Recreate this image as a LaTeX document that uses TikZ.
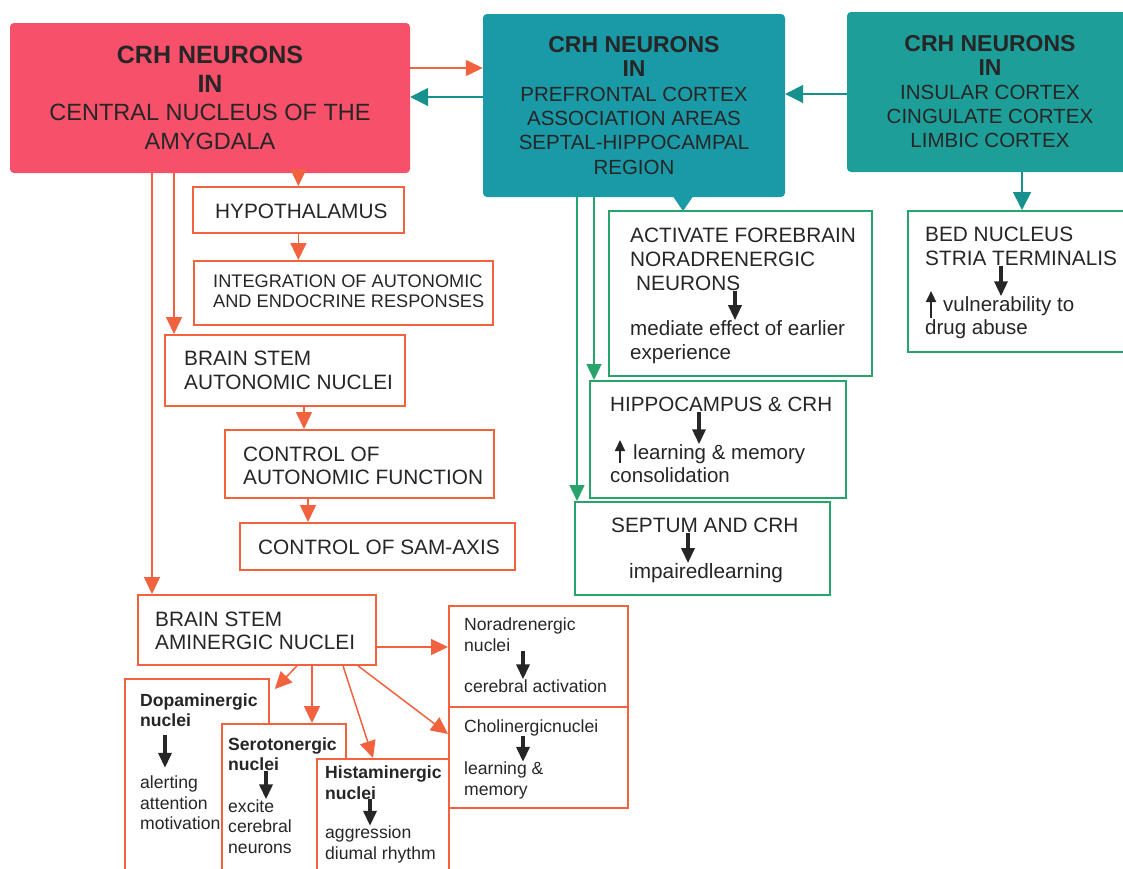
\documentclass[tikz,border=0pt]{standalone}
\usepackage{fontspec}
\setmainfont{Liberation Sans}
\usetikzlibrary{arrows.meta, positioning}
\definecolor{CRH_Rose}{HTML}{F6506A}
\definecolor{CRH_Teal}{HTML}{1A99A7}
\definecolor{CRH_Sea}{HTML}{1D9E99}
\definecolor{CRH_Arrow}{HTML}{16918E}
\definecolor{CRH_Coral}{HTML}{F2623F}
\definecolor{CRH_Green}{HTML}{27A36C}
\definecolor{CRH_Ink}{HTML}{262626}

\tikzset{
  head/.style={rounded corners=4pt, inner sep=0pt, align=center, text=CRH_Ink},
  rbox/.style={draw=CRH_Coral, line width=1.8pt, anchor=north west, inner sep=0pt},
  gbox/.style={draw=CRH_Green, line width=1.8pt, anchor=north west, inner sep=0pt},
  lbl/.style={anchor=west, inner sep=0pt, align=left, text=CRH_Ink, font=\fontsize{20.8}{23.5}\selectfont},
  note/.style={lbl, font=\fontsize{17.6}{20.5}\selectfont},
  rarr/.style={draw=CRH_Coral, line width=1.5pt, -{Triangle[length=17pt, width=16pt]}},
  garr/.style={draw=CRH_Green, line width=1.5pt, -{Triangle[length=16pt, width=15pt]}},
  tarr/.style={draw=CRH_Arrow, line width=1.8pt, -{Triangle[length=18pt, width=18pt]}},
  darr/.style={draw=CRH_Ink, line width=3.4pt, -{Triangle[length=15pt, width=13pt]}},
  uarr/.style={draw=CRH_Ink, line width=2.2pt, -{Triangle[length=11pt, width=10pt]}},
}
\newcommand{\hd}[1]{{\fontsize{23}{26}\selectfont\bfseries #1}}

\begin{document}
\begin{tikzpicture}[x=1pt, y=-1pt]
    \clip (0,0) rectangle (1123,868);
    % CRH neuron groups
    \node[head, fill=CRH_Rose, minimum width=400pt, minimum height=150pt,
          font=\fontsize{23.5}{28.5}\selectfont] (cea) at (210,98)
          {{\fontsize{25}{28}\selectfont\bfseries CRH NEURONS}\\{\fontsize{25}{28}\selectfont\bfseries IN}\\CENTRAL NUCLEUS OF THE\\AMYGDALA};
    \node[head, fill=CRH_Teal, minimum width=302pt, minimum height=183pt,
          font=\fontsize{20.5}{24.3}\selectfont] (pfc) at (634,105.5)
          {\hd{CRH NEURONS}\\\hd{IN}\\PREFRONTAL CORTEX\\ASSOCIATION AREAS\\SEPTAL-HIPPOCAMPAL\\REGION};
    \fill[CRH_Teal] (672,195) -- (683,211) -- (694,195) -- cycle;
    \node[head, fill=CRH_Sea, minimum width=286pt, minimum height=160pt,
          font=\fontsize{20.5}{24}\selectfont] (ins) at (990,92)
          {\hd{CRH NEURONS}\\\hd{IN}\\INSULAR CORTEX\\CINGULATE CORTEX\\LIMBIC CORTEX};

    % Amygdala outputs
    \node[rbox, minimum width=211pt, minimum height=46pt] (hypo) at (192,186) {};
    \node[lbl] (hypo-t) at (215,211) {HYPOTHALAMUS};
    \node[rbox, minimum width=299pt, minimum height=64pt] (integ) at (193,260) {};
    \node[lbl, font=\fontsize{18.2}{20}\selectfont] (integ-t) at (213,291) {INTEGRATION OF AUTONOMIC\\AND ENDOCRINE RESPONSES};
    \node[rbox, minimum width=240pt, minimum height=71pt] (autnuc) at (164,334) {};
    \node[lbl] (autnuc-t) at (184,370.5) {BRAIN STEM\\AUTONOMIC NUCLEI};
    \node[rbox, minimum width=269pt, minimum height=68pt] (ctrlaut) at (224,429) {};
    \node[lbl] (ctrlaut-t) at (243,466) {CONTROL OF\\AUTONOMIC FUNCTION};
    \node[rbox, minimum width=275pt, minimum height=47pt] (sam) at (239,522) {};
    \node[lbl] (sam-t) at (258,547) {CONTROL OF SAM-AXIS};

    % Aminergic nuclei
    \node[rbox, minimum width=238pt, minimum height=70pt] (amin) at (137,594) {};
    \node[lbl] (amin-t) at (155,631) {BRAIN STEM\\AMINERGIC NUCLEI};
    \node[rbox, fill=white, minimum width=144pt, minimum height=210pt] (dopa) at (124,678) {};
    \node[note] (dopa-t) at (140,710) {\textbf{Dopaminergic}\\\textbf{nuclei}};
    \node[note] (dopa-b) at (140,803) {alerting\\attention\\motivation};
    \node[rbox, fill=white, minimum width=124pt, minimum height=170pt] (sero) at (221,723) {};
    \node[note] (sero-t) at (228,754) {\textbf{Serotonergic}\\\textbf{nuclei}};
    \node[note] (sero-b) at (228,826.5) {excite\\cerebral\\neurons};
    \node[rbox, fill=white, minimum width=132pt, minimum height=130pt] (hist) at (316,758) {};
    \node[note] (hist-t) at (325,782.5) {\textbf{Histaminergic}\\\textbf{nuclei}};
    \node[note] (hist-b) at (325,844.5) {aggression\\diumal rhythm};
    \node[rbox, minimum width=179pt, minimum height=101pt] (nora) at (448,605) {};
    \node[note] (nora-t) at (464,634.5) {Noradrenergic\\nuclei};
    \node[note] (nora-b) at (464,686) {cerebral activation};
    \node[rbox, minimum width=179pt, minimum height=101pt] (chol) at (448,706) {};
    \node[note] (chol-t) at (464,728) {Cholinergicnuclei};
    \node[note] (chol-b) at (464,780.5) {learning \&\\memory};

    % Cortical targets
    \node[gbox, minimum width=263pt, minimum height=165pt] (act) at (608,210) {};
    \node[lbl, font=\fontsize{20.8}{24}\selectfont] (act-t) at (630,259) {ACTIVATE FOREBRAIN\\NORADRENERGIC\\\hspace*{6pt}NEURONS};
    \node[lbl, font=\fontsize{20.6}{24}\selectfont] (act-b) at (630,342) {mediate effect of earlier\\experience};
    \node[gbox, minimum width=230pt, minimum height=141pt] (bed) at (907,210) {};
    \node[lbl, font=\fontsize{20.8}{24}\selectfont] (bed-t) at (925,246) {BED NUCLEUS\\STRIA TERMINALIS};
    \node[lbl, font=\fontsize{20.5}{23}\selectfont] (bed-b) at (925,317.5) {\hspace*{18pt}vulnerability to\\drug abuse};
    \node[gbox, minimum width=256pt, minimum height=117pt] (hip) at (589,380) {};
    \node[lbl, font=\fontsize{20.6}{24}\selectfont] (hip-t) at (610,404) {HIPPOCAMPUS \& CRH};
    \node[lbl, font=\fontsize{20.5}{23}\selectfont] (hip-b) at (610,463.5) {\hspace*{23pt}learning \& memory\\consolidation};
    \node[gbox, minimum width=255pt, minimum height=93pt] (sep) at (574,501) {};
    \node[lbl, font=\fontsize{20.8}{24}\selectfont] (sep-t) at (611,525) {SEPTUM AND CRH};
    \node[lbl, font=\fontsize{20.8}{23}\selectfont] (sep-b) at (629,573) {impairedlearning};

    % Between the CRH groups
    \draw[rarr] (cea.east |- 0,68) -- (pfc.west |- 0,68);
    \draw[tarr] (pfc.west |- 0,97) -- (cea.east |- 0,97);
    \draw[tarr] (ins.west |- 0,94) -- (pfc.east |- 0,94);
    \draw[tarr] (ins.south -| 1022,0) -- (bed.north -| 1022,0);
    \draw[garr] (pfc.south -| 577,0) -- (sep.north -| 577,0);
    \draw[garr] (pfc.south -| 594,0) -- (hip.north -| 594,0);

    % Amygdala connectors
    \draw[rarr] ([yshift=4pt]cea.south -| hypo.north) -- (hypo.north);
    \draw[rarr] (hypo.south) -- (hypo.south |- integ.north);
    \draw[rarr] (cea.south -| 174,0) -- (autnuc.north -| 174,0);
    \draw[rarr] (autnuc.south -| 304,0) -- (ctrlaut.north -| 304,0);
    \draw[rarr] (ctrlaut.south -| 308,0) -- (sam.north -| 308,0);
    \draw[rarr] (cea.south -| 152,0) -- (amin.north -| 152,0);
    \draw[rarr] (amin.east |- 0,647) -- (nora.west |- 0,647);
    \draw[rarr] (amin.south -| 297,0) -- ([xshift=5pt,yshift=-11pt]dopa.north east);
    \draw[rarr] (amin.south -| 312,0) -- (sero.north -| 312,0);
    \draw[rarr] (amin.south -| 343,0) -- (hist.north -| 373,0);
    \draw[rarr] (amin.south -| 358,0) -- (chol.west |- 0,734);

    % Arrows inside the boxes
    \draw[darr] (act-t.south -| 735,0) -- (act-b.north -| 735,0);
    \draw[darr] (bed-t.south -| 1001,0) -- (bed-b.north -| 1001,0);
    \draw[darr] (hip-t.south -| 699,0) -- (hip-b.north -| 699,0);
    \draw[darr] (sep-t.south -| 688,0) -- (sep-b.north -| 688,0);
    \draw[darr] (nora-t.south -| 523,0) -- (nora-b.north -| 523,0);
    \draw[darr] (chol-t.south -| 523,0) -- (chol-b.north -| 523,0);
    \draw[darr, shorten <=8pt, shorten >=8pt] (dopa-t.south -| 165,0) -- (dopa-b.north -| 165,0);
    \draw[darr] (sero-t.south -| 266,0) -- (sero-b.north -| 266,0);
    \draw[darr] (hist-t.south -| 370,0) -- (hist-b.north -| 370,0);
    \draw[uarr] ([xshift=6pt]bed-b.west |- 0,318) -- ++(0,-27);
    \draw[uarr] ([xshift=10pt]hip-b.west |- 0,463) -- ++(0,-23);
\end{tikzpicture}
\end{document}
